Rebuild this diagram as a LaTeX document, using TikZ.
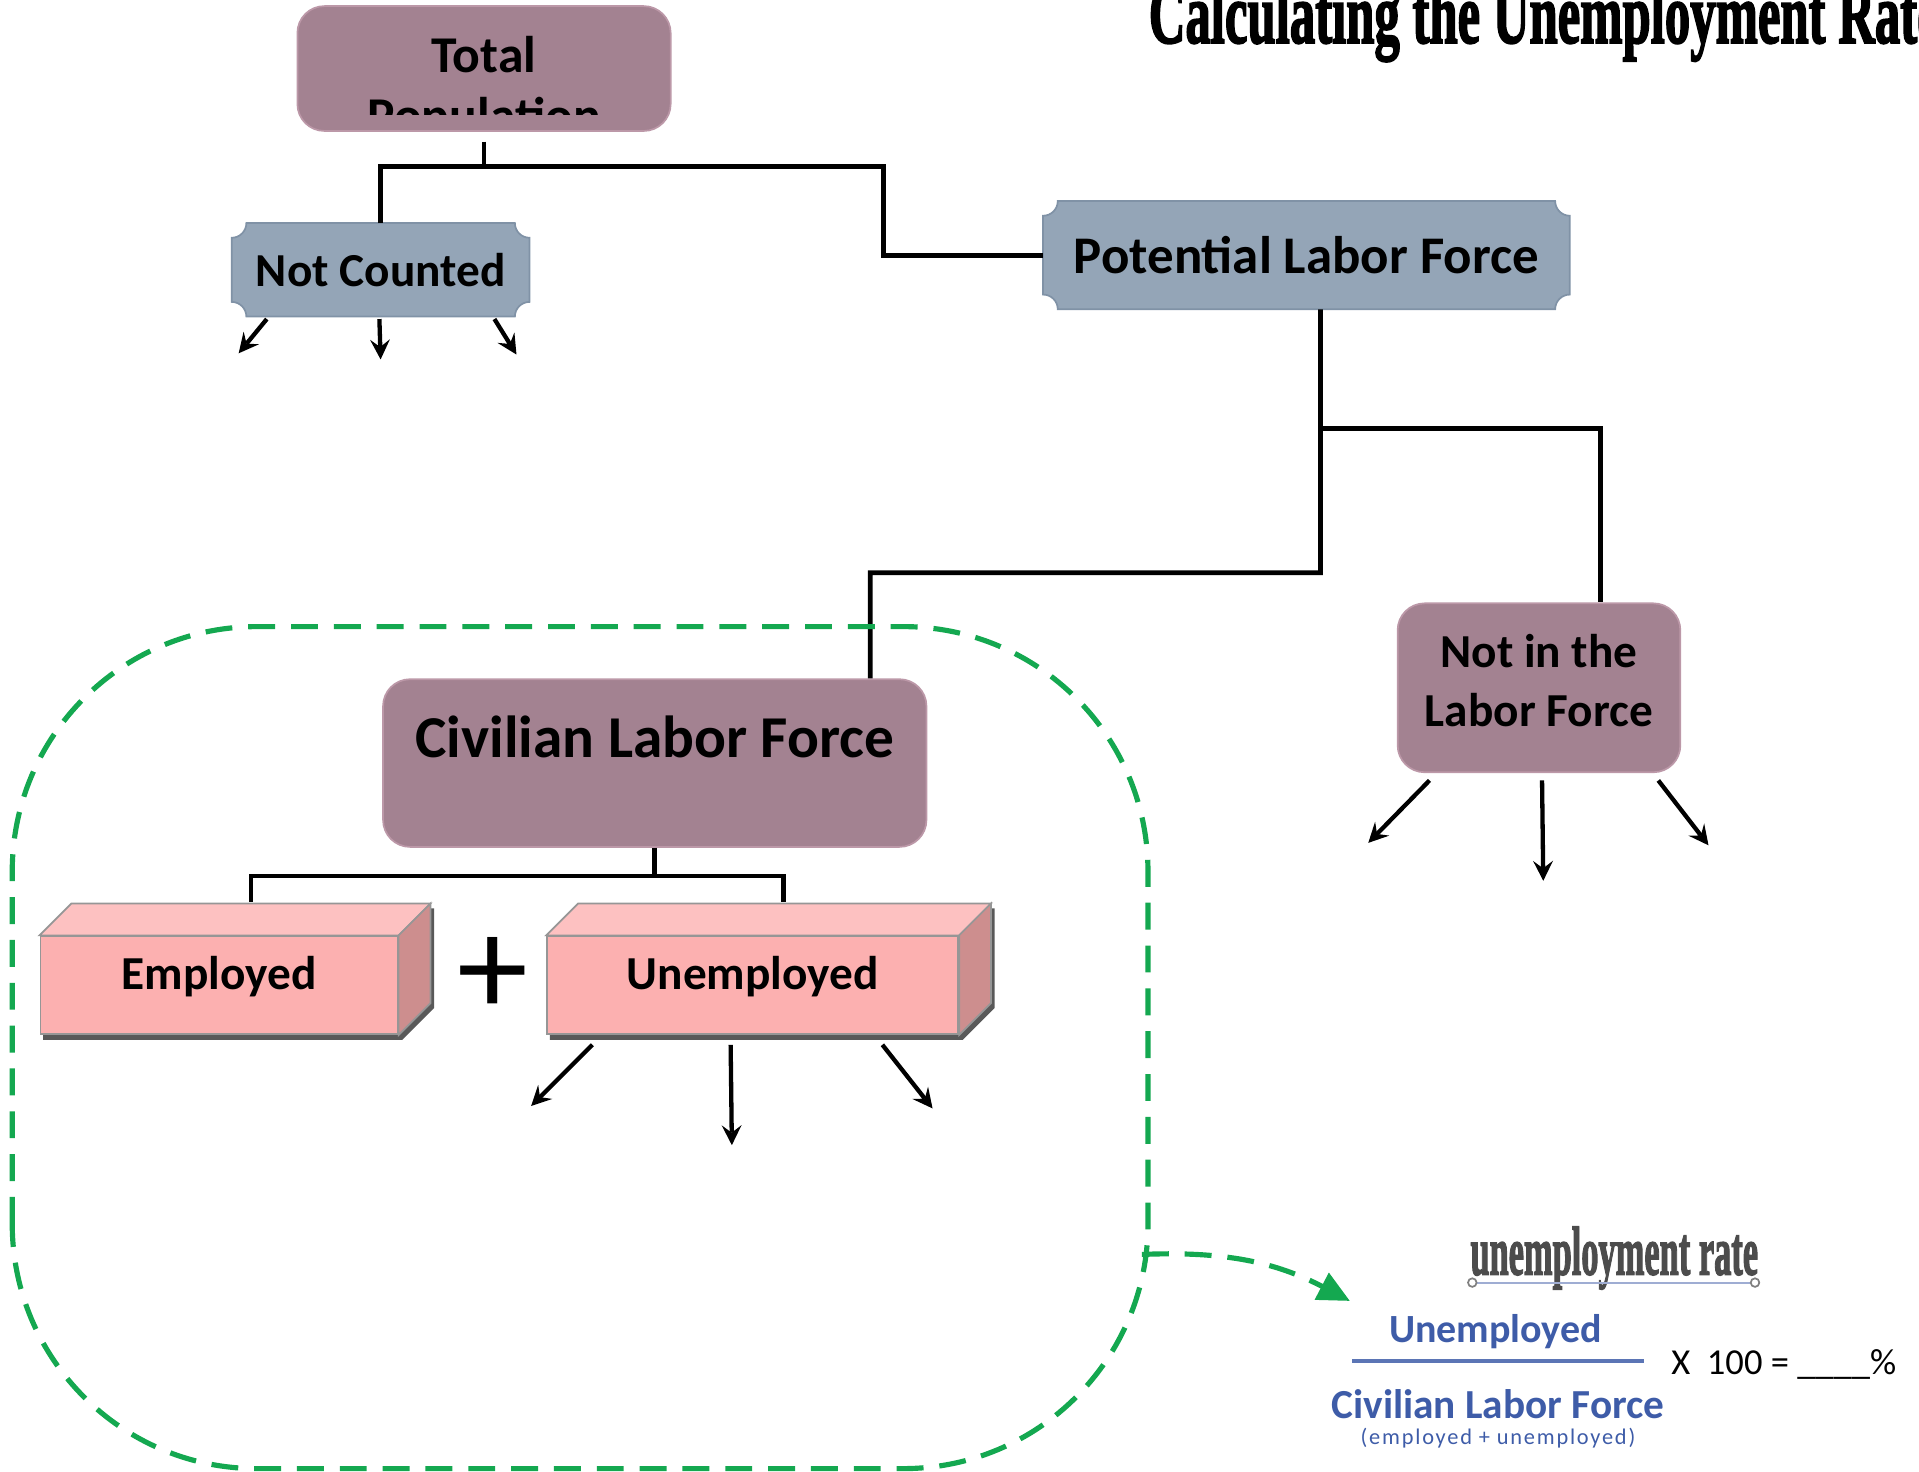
\documentclass[tikz,border=0pt]{standalone}
\usepackage{fontspec}
\setmainfont{Carlito}
\newfontfamily\headfont{Liberation Serif}[BoldFeatures={FakeBold=2.5}]
\usetikzlibrary{backgrounds,arrows.meta}
\definecolor{mauve}{RGB}{163,130,145}
\definecolor{mauveedge}{RGB}{188,152,168}
\definecolor{slate}{RGB}{148,165,183}
\definecolor{slateedge}{RGB}{128,146,166}
\definecolor{pinkfront}{RGB}{252,176,176}
\definecolor{pinktop}{RGB}{253,193,193}
\definecolor{pinkside}{RGB}{205,142,142}
\definecolor{boxedge}{RGB}{150,150,150}
\definecolor{grpgreen}{RGB}{20,168,80}
\definecolor{fmlblue}{RGB}{62,92,168}
\begin{document}
\begin{tikzpicture}[x=0.1mm,y=0.1mm,>=stealth,
    roundbox/.style={fill=mauve,draw=mauveedge,rounded corners=2.2mm},
    plaque/.style={font=\bfseries\fontsize{11}{13}\selectfont},
    cube/.style={fill=pinkfront,draw=boxedge,text depth=2mm,font=\bfseries\fontsize{11}{13}\selectfont},
    conn/.style={line width=1.1pt},
    arr/.style={->,line width=1pt},
    grp/.style={grpgreen,line width=1.2pt,dash pattern=on 2.2mm off 1.3mm}]
    \def\cdepth{26} \def\pr{1.2mm}
    \useasboundingbox (0,0) rectangle (1568,1202);
    \clip (0,0) rectangle (1568,1202);
    % title
    \node[anchor=base west,inner sep=0pt,font=\headfont\bfseries\fontsize{20}{20}\selectfont] (title) at (938,1167)
        {\scalebox{0.59}[1]{Calculating the Unemployment Rate}};
    % boxes
    \node[roundbox,minimum width=30.5mm,minimum height=10.2mm] (pop) at (395.5,1146) {};
    \begin{scope}
        \clip (pop.south west) ++(0,14) rectangle (pop.north east);
        \node[font=\bfseries\fontsize{12}{14.2}\selectfont,align=center] (poptext) at (395.5,1129) {Total\\Population};
    \end{scope}
    \node[plaque,minimum width=24.2mm,minimum height=7.5mm] (nc) at (311,981.5) {Not Counted};
    \node[plaque,minimum width=42.9mm,minimum height=8.7mm,font=\bfseries\fontsize{12.3}{14}\selectfont] (pot) at (1067.5,993.5) {Potential Labor Force};
    \node[roundbox,minimum width=23.1mm,minimum height=13.8mm,align=center,font=\bfseries\fontsize{11}{13.6}\selectfont] (notin) at (1257.5,640) {Not in the\\Labor Force\\[-3.6mm]};
    \node[roundbox,minimum width=44.4mm,text height=3.8mm,text depth=4.7mm,inner ysep=2.6mm,font=\bfseries\fontsize{13.8}{16}\selectfont] (civ) at (535,578.5) {Civilian Labor Force};
    \node[cube,minimum width=29.2mm,minimum height=8mm] (emp) at (179,397) {Employed};
    \node[cube,minimum width=33.6mm,minimum height=8mm] (unemp) at (615,397) {Unemployed};
    \node[font=\fontsize{33}{33}\selectfont] (plus) at (403,404) {+};
    \begin{scope}[on background layer]
        \foreach \n in {nc,pot}
        \filldraw[fill=slate,draw=slateedge,line width=.4pt] ([xshift=\pr]\n.south west) -- ([xshift=-\pr]\n.south east)
            arc[start angle=180,end angle=90,radius=\pr] -- ([yshift=-\pr]\n.north east)
            arc[start angle=270,end angle=180,radius=\pr] -- ([xshift=\pr]\n.north west)
            arc[start angle=0,end angle=-90,radius=\pr] -- ([yshift=\pr]\n.south west)
            arc[start angle=90,end angle=0,radius=\pr] -- cycle;
        \foreach \n in {emp,unemp}
        \fill[black!65,transform canvas={xshift=.3mm,yshift=-.4mm}] (\n.south west) -- (\n.south east) -- ++(\cdepth,\cdepth)
            -- ([shift={(\cdepth,\cdepth)}]\n.north east) -- ([shift={(\cdepth,\cdepth)}]\n.north west) -- (\n.north west) -- cycle;
    \end{scope}
    \foreach \n in {emp,unemp}{
        \filldraw[fill=pinktop,draw=boxedge] (\n.north west) -- ++(\cdepth,\cdepth)
            -- ([shift={(\cdepth,\cdepth)}]\n.north east) -- (\n.north east) -- cycle;
        \filldraw[fill=pinkside,draw=boxedge] (\n.north east) -- ++(\cdepth,\cdepth)
            -- ([shift={(\cdepth,\cdepth)}]\n.south east) -- (\n.south east) -- cycle;
    }
    % connectors
    \coordinate (bend1) at (722,1066);
    \coordinate (bend2) at (1079,734);
    \coordinate (bend3) at (1079,852);
    \draw[conn] ([yshift=-.8mm]pop.south) -- (pop.south |- bend1);
    \draw[conn] (nc.north) |- (bend1) |- (pot.west);
    \draw[conn] ([xshift=1.15mm]pot.south) -- (bend2) -| ([xshift=17.6mm]civ.north);
    \draw[conn] (bend3) -| ([xshift=5.05mm]notin.north);
    \draw[conn] (civ.south) -- ++(0,-23) -| ([shift={(2.6mm,2.7mm)}]emp.north);
    \draw[conn] (civ.south) -- ++(0,-23) -| ([shift={(2.5mm,2.7mm)}]unemp.north);
    \foreach \dx/\vx/\vy in {-9.3mm/-23/-28,-0.1mm/1/-33,9.3mm/18/-29}
    \draw[arr] ([xshift=\dx,yshift=-.2mm]nc.south) -- ++(\vx,\vy);
    \foreach \dx/\vx/\vy in {-8.95mm/-50/-51,0.25mm/1/-82,9.75mm/41/-53}
    \draw[arr] ([xshift=\dx,yshift=-.6mm]notin.south) -- ++(\vx,\vy);
    \foreach \dx/\vx/\vy in {-13.1mm/-50/-50,-1.8mm/1/-82,10.6mm/41/-52}
    \draw[arr] ([xshift=\dx,yshift=-.8mm]unemp.south) -- ++(\vx,\vy);
    % group and formula
    \draw[grp,rounded corners=20mm] (10,2) rectangle (938,690);
    \coordinate (grpexit) at (933,177);
    \coordinate (fmltip) at (1103,139);
    \draw[grp,-{Triangle[length=2.6mm,width=2.4mm]}] (grpexit) to[bend left=15] (fmltip);
    \node[font=\headfont\bfseries\fontsize{16}{16}\selectfont,text=black!70] (ratehead) at (1319,174)
        {\scalebox{0.5}[1]{unemployment rate}};
    \draw[fmlblue!50,line width=.5pt] (1203,154) -- (1434,154);
    \foreach \x in {1203,1434}
    \draw[gray,fill=white] (\x,154) circle[radius=.35mm];
    \node[font=\bfseries\fontsize{9.3}{11}\selectfont,text=fmlblue] (fnum) at (1222,114) {Unemployed};
    \draw[fmlblue!85,line width=1pt] (1105,90) -- (1343,90);
    \node[font=\bfseries\fontsize{9.6}{12}\selectfont,text=fmlblue] (fden) at (1224,55) {Civilian Labor Force};
    \node[font=\fontsize{5.2}{6}\selectfont\addfontfeatures{LetterSpace=8},text=fmlblue] (fsub) at (1224,27) {(employed + unemployed)};
    \node[anchor=west,inner sep=0pt,font=\fontsize{8.5}{10}\selectfont] (ftail) at (1365,87) {X\ \ 100 = \_\_\_\_\%};
\end{tikzpicture}
\end{document}
